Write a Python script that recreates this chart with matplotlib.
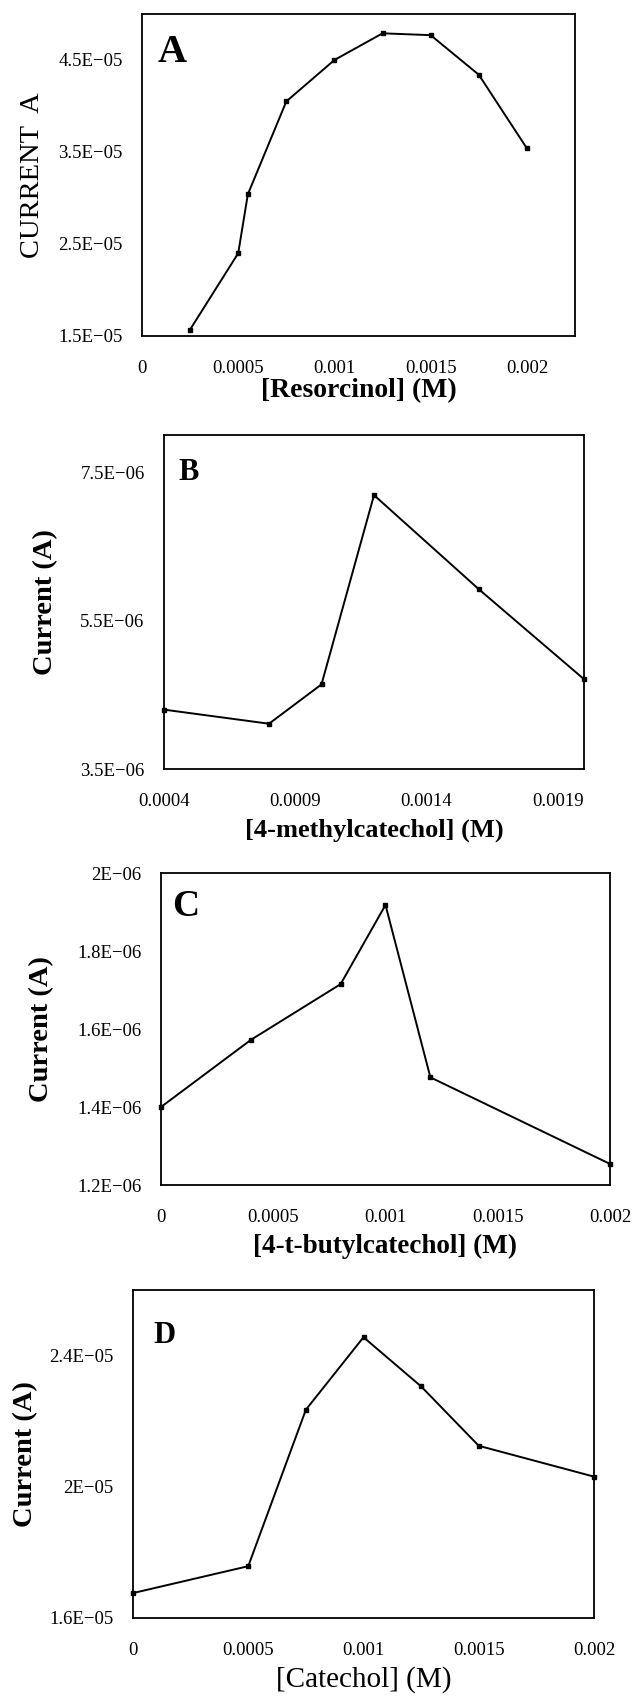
#!/usr/bin/env python3

import matplotlib
matplotlib.use('Agg')
import matplotlib.pyplot as plt

plt.rcParams['font.family'] = ['Liberation Serif', 'DejaVu Serif']

# panel A: resorcinol
RES_CONC = [0.00025, 0.0005, 0.00055, 0.00075, 0.001, 0.00125, 0.0015, 0.00175, 0.002]
RES_CURR = [1.57e-5, 2.40e-5, 3.04e-5, 4.05e-5, 4.50e-5, 4.79e-5, 4.77e-5, 4.34e-5, 3.54e-5]
RES_XTICKS = [0, 0.0005, 0.001, 0.0015, 0.002]
RES_XLABELS = ['0', '0.0005', '0.001', '0.0015', '0.002']
RES_YTICKS = [1.5e-5, 2.5e-5, 3.5e-5, 4.5e-5]
RES_YLABELS = ['1.5E\u221205', '2.5E\u221205', '3.5E\u221205', '4.5E\u221205']

# panel B: 4-methylcatechol
MET_CONC = [0.0004, 0.0008, 0.001, 0.0012, 0.0016, 0.002]
MET_CURR = [4.30e-6, 4.11e-6, 4.64e-6, 7.19e-6, 5.92e-6, 4.71e-6]
MET_XTICKS = [0.0004, 0.0009, 0.0014, 0.0019]
MET_XLABELS = ['0.0004', '0.0009', '0.0014', '0.0019']
MET_YTICKS = [3.5e-6, 5.5e-6, 7.5e-6]
MET_YLABELS = ['3.5E\u221206', '5.5E\u221206', '7.5E\u221206']

# panel C: 4-t-butylcatechol
BUT_CONC = [0, 0.0004, 0.0008, 0.001, 0.0012, 0.002]
BUT_CURR = [1.40e-6, 1.572e-6, 1.715e-6, 1.918e-6, 1.476e-6, 1.254e-6]
BUT_XTICKS = [0, 0.0005, 0.001, 0.0015, 0.002]
BUT_XLABELS = ['0', '0.0005', '0.001', '0.0015', '0.002']
BUT_YTICKS = [1.2e-6, 1.4e-6, 1.6e-6, 1.8e-6, 2.0e-6]
BUT_YLABELS = ['1.2E\u221206', '1.4E\u221206', '1.6E\u221206', '1.8E\u221206', '2E\u221206']

# panel D: catechol
CAT_CONC = [0, 0.0005, 0.00075, 0.001, 0.00125, 0.0015, 0.002]
CAT_CURR = [1.676e-5, 1.758e-5, 2.235e-5, 2.456e-5, 2.306e-5, 2.125e-5, 2.031e-5]
CAT_XTICKS = [0, 0.0005, 0.001, 0.0015, 0.002]
CAT_XLABELS = ['0', '0.0005', '0.001', '0.0015', '0.002']
CAT_YTICKS = [1.6e-5, 2.0e-5, 2.4e-5]
CAT_YLABELS = ['1.6E\u221205', '2E\u221205', '2.4E\u221205']

W, H = 633, 1698


def box(left, right, top, bottom):
    # pixel edges -> figure fraction rect
    return [left / W, 1 - bottom / H, (right - left) / W, (bottom - top) / H]


PANELS = [
    dict(rect=box(142, 575, 14, 336), x=RES_CONC, y=RES_CURR,
         xlim=(0, 0.00225), ylim=(1.5e-5, 5e-5),
         xt=RES_XTICKS, xl=RES_XLABELS, yt=RES_YTICKS, yl=RES_YLABELS,
         xlabel='[Resorcinol] (M)', xbold=True, xsize=20, xlpos=-0.171,
         ylabel='CURRENT  A', ybold=False, ylpos=-0.252,
         letter='A', lsize=29, lpos=(0.035, 0.938)),
    dict(rect=box(164, 584, 435, 769), x=MET_CONC, y=MET_CURR,
         xlim=(0.0004, 0.002), ylim=(3.5e-6, 8e-6),
         xt=MET_XTICKS, xl=MET_XLABELS, yt=MET_YTICKS, yl=MET_YLABELS,
         xlabel='[4-methylcatechol] (M)', xbold=True, xsize=19, xlpos=-0.183,
         ylabel='Current (A)', ybold=True, ylpos=-0.283,
         letter='B', lsize=22, lpos=(0.035, 0.932)),
    dict(rect=box(161, 610, 873, 1185), x=BUT_CONC, y=BUT_CURR,
         xlim=(0, 0.002), ylim=(1.2e-6, 2e-6),
         xt=BUT_XTICKS, xl=BUT_XLABELS, yt=BUT_YTICKS, yl=BUT_YLABELS,
         xlabel='[4-t-butylcatechol] (M)', xbold=True, xsize=19.5, xlpos=-0.196,
         ylabel='Current (A)', ybold=True, ylpos=-0.265,
         letter='C', lsize=27, lpos=(0.025, 0.949)),
    dict(rect=box(133, 594, 1290, 1618), x=CAT_CONC, y=CAT_CURR,
         xlim=(0, 0.002), ylim=(1.6e-5, 2.6e-5),
         xt=CAT_XTICKS, xl=CAT_XLABELS, yt=CAT_YTICKS, yl=CAT_YLABELS,
         xlabel='[Catechol] (M)', xbold=False, xsize=21, xlpos=-0.189,
         ylabel='Current (A)', ybold=True, ylpos=-0.234,
         letter='D', lsize=22, lpos=(0.045, 0.905)),
]

fig = plt.figure(figsize=(W / 100, H / 100), dpi=100)

for p in PANELS:
    ax = fig.add_axes(p['rect'])
    ax.plot(p['x'], p['y'], color='black', lw=1.4, marker='s', ms=3.4,
            clip_on=False)
    ax.set_xlim(*p['xlim'])
    ax.set_ylim(*p['ylim'])
    ax.set_xticks(p['xt'])
    ax.set_xticklabels(p['xl'])
    ax.set_yticks(p['yt'])
    ax.set_yticklabels(p['yl'])
    ax.tick_params(length=0, labelsize=13.5)
    ax.tick_params(axis='x', pad=17.5)
    ax.tick_params(axis='y', pad=14)
    for s in ax.spines.values():
        s.set_linewidth(1.3)

    # labels placed by their centres
    ax.set_xlabel(p['xlabel'], fontsize=p['xsize'],
                  fontweight='bold' if p['xbold'] else 'normal')
    ax.xaxis.label.set_verticalalignment('center')
    ax.xaxis.set_label_coords(0.5, p['xlpos'])
    ax.set_ylabel(p['ylabel'], fontsize=20.5,
                  fontweight='bold' if p['ybold'] else 'normal')
    ax.yaxis.label.set_verticalalignment('center')
    ax.yaxis.set_label_coords(p['ylpos'], 0.5)

    ax.text(p['lpos'][0], p['lpos'][1], p['letter'], transform=ax.transAxes,
            fontsize=p['lsize'], fontweight='bold', ha='left', va='top')

fig.savefig('out.png', dpi=100)
